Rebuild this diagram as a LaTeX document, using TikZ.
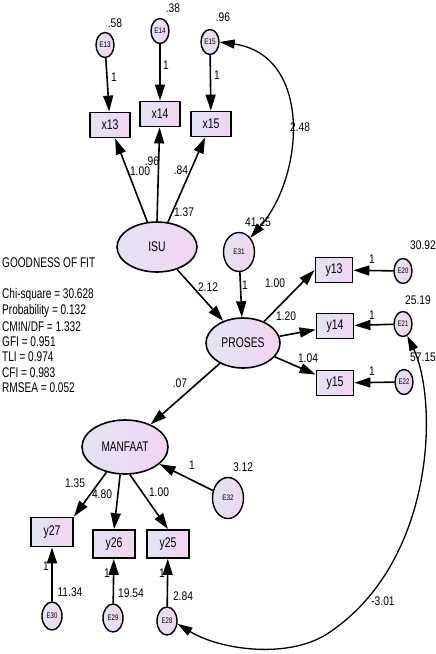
\documentclass[tikz,border=0pt]{standalone}
\usepackage{fontspec}
\setmainfont{Liberation Sans}
\usetikzlibrary{shapes.geometric,arrows.meta}
\definecolor{fL}{RGB}{226,228,242}
\definecolor{fR}{RGB}{242,212,242}
\newcommand{\sqz}[2][0.82]{\scalebox{#1}[1]{#2}}
\begin{document}
\begin{tikzpicture}[x=1pt,y=-1pt,
 lat/.style={ellipse,draw,line width=1.6pt,left color=fL,right color=fR,inner sep=0pt,font=\fontsize{14}{14}\selectfont},
 err/.style={ellipse,draw,line width=1.4pt,left color=fL,right color=fR,inner sep=0pt,minimum width=18pt,minimum height=25pt,font=\fontsize{8}{8}\selectfont},
 obs/.style={rectangle,draw,line width=1.8pt,left color=fL,right color=fR,inner sep=0pt,minimum width=40pt,minimum height=25pt,font=\fontsize{14}{14}\selectfont},
 arr/.style={line width=1.6pt,-{Triangle[length=16pt,width=10pt]}},
 dbl/.style={line width=1.3pt,{Triangle[length=15pt,width=9pt]}-{Triangle[length=15pt,width=9pt]}},
 lbl/.style={inner sep=0pt,font=\fontsize{12.5}{12.5}\selectfont},
 gof/.style={anchor=west,inner sep=0pt,font=\fontsize{14}{14}\selectfont}
]
\useasboundingbox (0,0) rectangle (436,654);
% error terms top
\node[err] (E13) at (105,45) {\sqz[0.8]{E13}};
\node[err] (E14) at (160,31) {\sqz[0.8]{E14}};
\node[err] (E15) at (210,42) {\sqz[0.8]{E15}};
% boxes x
\node[obs] (x13) at (110,125) {\sqz[0.75]{x13}};
\node[obs] (x14) at (160,114) {\sqz[0.75]{x14}};
\node[obs] (x15) at (211,124) {\sqz[0.75]{x15}};
% latent
\node[lat,minimum width=80pt,minimum height=50pt] (ISU) at (157,247) {\sqz[0.74]{ISU}};
\node[lat,minimum width=74pt,minimum height=50pt] (PROSES) at (243,343) {\sqz[0.74]{PROSES}};
\node[lat,minimum width=86pt,minimum height=54pt] (MANFAAT) at (125,447) {\sqz[0.72]{MANFAAT}};
\node[err,minimum width=31pt,minimum height=39pt] (E31) at (239,252) {\sqz[0.8]{E31}};
\node[err,minimum width=31pt,minimum height=41pt] (E32) at (228,498) {\sqz[0.8]{E32}};
% y boxes right
\node[obs,minimum width=37pt] (y13) at (334,270) {\sqz[0.75]{y13}};
\node[obs,minimum width=37pt] (y14) at (335,326) {\sqz[0.75]{y14}};
\node[obs,minimum width=37pt] (y15) at (335,383) {\sqz[0.75]{y15}};
\node[err] (E20) at (403,271) {\sqz[0.75]{E20}};
\node[err] (E21) at (403,324) {\sqz[0.75]{E21}};
\node[err] (E22) at (404,382) {\sqz[0.75]{E22}};
% y boxes bottom
\node[obs,minimum width=42pt,minimum height=29pt] (y27) at (52,532) {\sqz[0.75]{y27}};
\node[obs,minimum width=42pt,minimum height=28pt] (y26) at (114,544) {\sqz[0.75]{y26}};
\node[obs,minimum width=42pt,minimum height=28pt] (y25) at (168,544) {\sqz[0.75]{y25}};
\node[err,minimum width=20pt,minimum height=28pt] (E30) at (52,616) {\sqz[0.75]{E30}};
\node[err,minimum width=20pt,minimum height=28pt] (E29) at (113,618) {\sqz[0.75]{E29}};
\node[err,minimum width=20pt,minimum height=28pt] (E28) at (167,621) {\sqz[0.75]{E28}};
% arrows
\draw[arr] (E13) -- (x13);
\draw[arr] (E14) -- (x14);
\draw[arr] (E15) -- (x15);
\draw[arr] (ISU) -- (x13);
\draw[arr] (ISU.north) -- (x14);
\draw[arr] (ISU) -- (x15);
\draw[arr] (ISU) -- (PROSES);
\draw[arr] (E31) -- (PROSES);
\draw[arr] (PROSES) -- (y13.west);
\draw[arr] (PROSES) -- (y14);
\draw[arr] (PROSES) -- (y15);
\draw[arr] (E20) -- (y13);
\draw[arr] (E21) -- (y14);
\draw[arr] (E22) -- (y15);
\draw[arr] (PROSES) -- (MANFAAT);
\draw[arr] (E32) -- (MANFAAT);
\draw[arr] (MANFAAT) -- (y27.north east);
\draw[arr] (MANFAAT.-100) -- (y26.north);
\draw[arr] (MANFAAT.-80) -- (y25.north);
\draw[arr] (E30) -- (y27);
\draw[arr] (E29) -- (y26);
\draw[arr] (E28) -- (y25);
\draw[dbl] (E15.east) .. controls (312,55) and (305,175) .. (E31.north east);
\coordinate (cb) at (330,632);
\draw[dbl] (E21.-70) .. controls (438,400) and (436,560) .. (cb) .. controls (290,660) and (220,650) .. (E28.-15);
% labels
\node[lbl] (v13) at (115,23) {\sqz{.58}};
\node[lbl] (v14) at (173,8) {\sqz{.38}};
\node[lbl] (v15) at (223,17) {\sqz{.96}};
\node[lbl] (o13) at (114,77) {\sqz{1}};
\node[lbl] (o14) at (166,65) {\sqz{1}};
\node[lbl] (o15) at (217,75) {\sqz{1}};
\node[lbl] (w13) at (140,171) {\sqz{1.00}};
\node[lbl] (w14) at (152,161) {\sqz{.96}};
\node[lbl] (w15) at (181,170) {\sqz{.84}};
\node[lbl] (c1) at (184,212) {\sqz{1.37}};
\node[lbl] (c2) at (300,127) {\sqz{2.48}};
\node[lbl] (v31) at (258,222) {\sqz{41.25}};
\node[lbl] (b1) at (208,287) {\sqz{2.12}};
\node[lbl] (o31) at (245,285) {\sqz{1}};
\node[lbl] (p13) at (275,283) {\sqz{1.00}};
\node[lbl] (p14) at (286,316) {\sqz{1.20}};
\node[lbl] (p15) at (308,358) {\sqz{1.04}};
\node[lbl] (o20) at (372,259) {\sqz{1}};
\node[lbl] (o21) at (372,315) {\sqz{1}};
\node[lbl] (o22) at (372,371) {\sqz{1}};
\node[lbl] (v20) at (423,245) {\sqz{30.92}};
\node[lbl] (v21) at (418,300) {\sqz{25.19}};
\node[lbl] (v22) at (423,357) {\sqz{57.15}};
\node[lbl] (b2) at (180,383) {\sqz{.07}};
\node[lbl] (o32) at (192,465) {\sqz{1}};
\node[lbl] (v32) at (243,467) {\sqz{3.12}};
\node[lbl] (m27) at (75,483) {\sqz{1.35}};
\node[lbl] (m26) at (102,494) {\sqz{4.80}};
\node[lbl] (m25) at (159,492) {\sqz{1.00}};
\node[lbl] (o30) at (46,566) {\sqz{1}};
\node[lbl] (o29) at (107,573) {\sqz{1}};
\node[lbl] (o28) at (162,573) {\sqz{1}};
\node[lbl] (v30) at (70,592) {\sqz{11.34}};
\node[lbl] (v29) at (131,593) {\sqz{19.54}};
\node[lbl] (v28) at (183,596) {\sqz{2.84}};
\node[lbl] (c3) at (383,601) {\sqz{-3.01}};
% goodness of fit
\node[gof] (g0) at (2,263) {\sqz[0.72]{GOODNESS OF FIT}};
\node[gof] (g1) at (2,295) {\sqz[0.72]{Chi-square = 30.628}};
\node[gof] (g2) at (2,310.5) {\sqz[0.72]{Probability = 0.132}};
\node[gof] (g3) at (2,326) {\sqz[0.72]{CMIN/DF = 1.332}};
\node[gof] (g4) at (2,341.5) {\sqz[0.72]{GFI = 0.951}};
\node[gof] (g5) at (2,357) {\sqz[0.72]{TLI = 0.974}};
\node[gof] (g6) at (2,372.5) {\sqz[0.72]{CFI = 0.983}};
\node[gof] (g7) at (2,388) {\sqz[0.72]{RMSEA = 0.052}};
\end{tikzpicture}
\end{document}
